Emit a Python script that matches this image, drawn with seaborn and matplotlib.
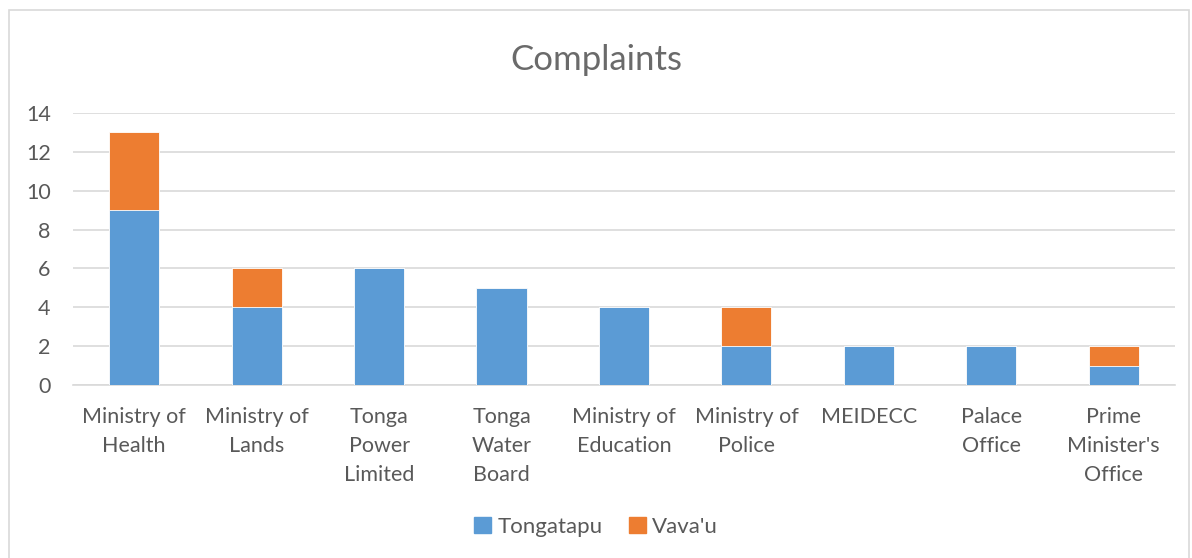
import numpy as np
import pandas as pd
import matplotlib
matplotlib.use("Agg")
import matplotlib.pyplot as plt
from matplotlib.patches import Patch, Rectangle
import seaborn as sns

categories = [
    "Ministry of\nHealth",
    "Ministry of\nLands",
    "Tonga\nPower\nLimited",
    "Tonga\nWater\nBoard",
    "Ministry of\nEducation",
    "Ministry of\nPolice",
    "MEIDECC",
    "Palace\nOffice",
    "Prime\nMinister's\nOffice",
]
tongatapu = [9, 4, 6, 5, 4, 2, 2, 2, 1]
vavau = [4, 2, 0, 0, 0, 2, 0, 0, 1]

BLUE = "#5b9bd5"
ORANGE = "#ed7d31"
GREY = "#595959"

sns.set_theme(style="white")
plt.rcParams["font.family"] = ["Lato", "DejaVu Sans"]

df = pd.DataFrame({"category": categories, "Tongatapu": tongatapu, "Vava'u": vavau})
df["total"] = df["Tongatapu"] + df["Vava'u"]

fig = plt.figure(figsize=(11.92, 5.58), dpi=100)
ax = fig.add_axes([0.0612, 0.310, 0.9245, 0.4875])

sns.barplot(data=df, x="category", y="total", order=categories, color=ORANGE,
            width=0.41, saturation=1, ax=ax, zorder=3, edgecolor="white", linewidth=0.6)
sns.barplot(data=df, x="category", y="Tongatapu", order=categories, color=BLUE,
            width=0.41, saturation=1, ax=ax, zorder=4, edgecolor="white", linewidth=0.6)

ax.set_ylim(0, 14)
ax.set_yticks(np.arange(0, 15, 2))
ax.set_xlim(-0.5, len(categories) - 0.5)
ax.yaxis.grid(True, color="#d9d9d9", linewidth=1.2, zorder=0)
ax.set_axisbelow(True)
for s in ["top", "right", "left"]:
    ax.spines[s].set_visible(False)
ax.spines["bottom"].set_color("#d9d9d9")
ax.spines["bottom"].set_linewidth(1.2)
ax.set_xlabel("")
ax.set_ylabel("")
ax.tick_params(axis="both", length=0, colors=GREY, labelsize=15.5)
ax.tick_params(axis="x", pad=16)
ax.tick_params(axis="y", pad=16)
for lbl in ax.get_xticklabels():
    lbl.set_linespacing(1.55)

fig.text(0.5, 0.892, "Complaints", ha="center", va="center", fontsize=25,
         color="#6a6a6a")

handles = [Patch(color=BLUE, label="Tongatapu"), Patch(color=ORANGE, label="Vava'u")]
fig.legend(handles=handles, loc="center", bbox_to_anchor=(0.5, 0.056), ncol=2,
           frameon=False, fontsize=16, labelcolor=GREY, handlelength=0.75,
           handleheight=0.75, handletextpad=0.3, columnspacing=1.2)

fig.patches.append(Rectangle((0.0075, -0.01), 0.99, 0.992, transform=fig.transFigure,
                             fill=False, edgecolor="#d9d9d9", linewidth=1.2))

fig.savefig("out.png", dpi=100, facecolor="white")
